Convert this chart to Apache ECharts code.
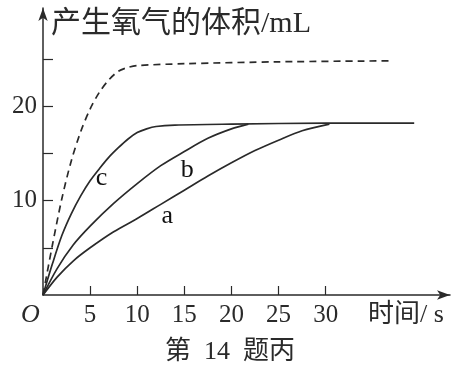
<!DOCTYPE html>
<html><head><meta charset="utf-8">
<script src="https://cdn.jsdelivr.net/npm/echarts@6/dist/echarts.min.js"></script>
<style>html,body{margin:0;padding:0;background:#fff}#c{width:453px;height:369px}</style>
</head><body><div id="c"></div>
<script>
var xTicks = [5, 10, 15, 20, 25, 30];
var yTicks = [5, 10, 15, 20, 25];
var yLabels = [10, 20];
var dashedCurve = [[0,0],[1,5.3],[2,10.2],[3,14.2],[4,17.3],[5,19.7],[6,21.5],[7,22.8],[8,23.7],[9,24.1],[10,24.3],[15,24.5],[25,24.7],[36.8,24.8]];
var curveC = [[0,0],[1,3.3],[2,6.3],[3,8.6],[4,10.5],[5,12.1],[6,13.4],[7,14.6],[8,15.6],[9,16.5],[10,17.2],[11,17.6],[12,17.85],[14,18.0],[20,18.1],[30,18.2],[39.4,18.2]];
var curveB = [[0,0],[1.5,2.8],[3.2,5.3],[5,7.3],[7.5,9.7],[10,11.8],[12.5,13.7],[15,15.2],[17.5,16.6],[20,17.6],[21.8,18.1]];
var curveA = [[0,0],[1.5,1.9],[3.2,3.6],[5,5.0],[7.5,6.7],[10,8.1],[12.5,9.6],[15,11.1],[17.5,12.6],[20,14.0],[22.5,15.3],[25,16.4],[27.5,17.4],[30.4,18.1]];
var curveLabels = [['c',[6.2,12.4]],['b',[15.3,13.2]],['a',[13.2,8.4]]];

var serif = '"Liberation Serif","Noto Sans CJK SC",serif';
var ink = '#2a2a2a';
var chart = echarts.init(document.getElementById('c'), null, {renderer:'canvas'});
function lineSeries(data, dashed) {
  return {
    type:'line', data:data, showSymbol:false, symbol:'none', smooth:0.3,
    lineStyle:{color:ink, width:1.7, type: dashed ? [7,5] : 'solid'}, silent:true, animation:false
  };
}
chart.setOption({
  animation:false,
  grid:{left:43, right:3, top:8, bottom:74, containLabel:false},
  xAxis:{type:'value', min:0, max:43.2, interval:5,
    axisLine:{show:true, lineStyle:{color:ink, width:1.5}, symbol:['none','arrow'], symbolSize:[7,13]},
    axisTick:{show:true, inside:true, length:9, lineStyle:{color:ink, width:1.2}, customValues:xTicks},
    axisLabel:{show:true, customValues:xTicks, color:ink, fontFamily:serif, fontSize:25, margin:8},
    splitLine:{show:false}},
  yAxis:{type:'value', min:0, max:30.4, interval:5,
    name:'产生氧气的体积/mL', nameLocation:'end', nameGap:-16,
    nameTextStyle:{color:ink, fontFamily:serif, fontSize:30, align:'left', verticalAlign:'middle', padding:[0,0,0,8]},
    axisLine:{show:true, lineStyle:{color:ink, width:1.5}, symbol:['none','arrow'], symbolSize:[7,13]},
    axisTick:{show:true, inside:true, length:10, lineStyle:{color:ink, width:1.2}, customValues:yTicks},
    axisLabel:{show:true, customValues:yLabels, color:ink, fontFamily:serif, fontSize:25, margin:6},
    splitLine:{show:false}},
  graphic:[
    {type:'text', left:21, top:302, style:{text:'O', font:'italic 26px "Liberation Serif"', fill:ink}},
    {type:'text', left:368, top:302, style:{text:'时间/ s', font:'26px "Liberation Serif","Noto Sans CJK SC"', fill:ink}},
    {type:'text', left:165, top:339, style:{text:'第\u200214\u2002题丙', font:'26px "Liberation Serif","Noto Sans CJK SC"', fill:ink}}
  ],
  series:[
    lineSeries(dashedCurve, true),
    lineSeries(curveC, false),
    lineSeries(curveB, false),
    lineSeries(curveA, false),
    {type:'scatter', symbol:'circle', symbolSize:2, itemStyle:{color:'rgba(0,0,0,0)'}, silent:true, animation:false,
      label:{show:true, position:'inside', color:'#111', opacity:1, fontFamily:serif, fontSize:26,
        formatter:function(p){return p.name;}},
      data: curveLabels.map(function(l){return {name:l[0], value:l[1]};})}
  ]
});
</script></body></html>
